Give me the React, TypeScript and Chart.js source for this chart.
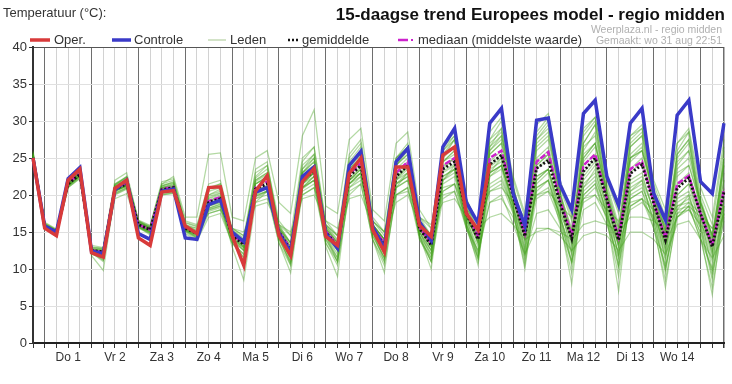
import React, { useEffect, useRef } from "react";
import { Chart, registerables } from "chart.js";
Chart.register(...registerables);

const dayLabels = ["Do 1", "Vr 2", "Za 3", "Zo 4", "Ma 5", "Di 6", "Wo 7", "Do 8", "Vr 9", "Za 10", "Zo 11", "Ma 12", "Di 13", "Wo 14"];
const yTickStep = 5;
const yMin = 0;
const yMax = 40;

const oper = [25.0,
  15.5, 14.5, 22.0, 23.5,
  12.2, 11.6, 20.9, 22.0,
  14.2, 13.2, 20.4, 20.6,
  15.8, 14.8, 21.0, 21.1,
  14.5, 10.5, 20.5, 22.6,
  14.5, 11.8, 21.8, 23.6,
  14.4, 13.2, 22.9, 25.0,
  15.3, 12.3, 23.8, 23.8,
  15.9, 14.4, 25.4, 26.5,
  17.5, 15.3, 24.3];

const controle = [25.0,
  15.8, 15.0, 22.2, 23.7,
  12.4, 12.1, 20.7, 22.0,
  14.8, 14.0, 20.5, 20.8,
  14.2, 14.0, 18.7, 19.3,
  15.0, 13.7, 20.4, 21.0,
  14.8, 12.3, 22.5, 23.8,
  14.8, 12.8, 24.0, 25.9,
  15.7, 12.8, 24.5, 26.3,
  16.4, 13.9, 26.5, 29.0,
  19.0, 16.2, 29.7, 31.7,
  20.2, 15.9, 30.1, 30.4,
  21.4, 18.0, 31.0, 32.8,
  22.5, 18.6, 29.7, 31.7,
  20.2, 16.6, 30.8, 32.8,
  21.8, 20.2, 29.7];

const gemiddelde = [25.0,
  15.8, 15.0, 21.5, 22.8,
  12.5, 12.3, 20.8, 21.5,
  16.0, 15.3, 20.7, 21.0,
  15.5, 14.8, 19.0, 19.5,
  14.5, 13.3, 20.8, 21.5,
  15.0, 12.5, 22.0, 23.3,
  15.0, 13.0, 22.5, 24.0,
  15.5, 13.2, 22.5, 24.0,
  15.5, 13.2, 23.5, 24.5,
  17.5, 14.0, 24.1, 25.4,
  19.8, 14.4, 23.6, 24.7,
  18.9, 14.1, 23.2, 25.0,
  19.3, 13.9, 22.9, 24.1,
  18.9, 13.9, 20.9, 22.3,
  17.5, 13.0, 20.4];

const mediaan = [25.0,
  15.8, 15.0, 21.6, 22.9,
  12.5, 12.3, 20.9, 21.6,
  16.0, 15.3, 20.8, 21.1,
  15.5, 14.9, 19.2, 19.7,
  14.6, 13.5, 21.0, 21.8,
  15.1, 12.7, 22.3, 23.6,
  15.1, 13.2, 22.8, 24.3,
  15.6, 13.5, 23.0, 24.5,
  15.6, 13.5, 24.0, 25.0,
  17.8, 14.3, 25.0, 26.0,
  20.0, 14.8, 24.5, 25.8,
  19.3, 14.6, 24.0, 25.5,
  19.5, 14.3, 23.5, 24.5,
  19.0, 14.2, 21.5, 22.6,
  17.5, 13.2, 20.8];

const lid01 = [25.5, 16.0, 15.2, 21.8, 23.2, 12.8, 12.0, 21.2, 22.0, 16.2, 15.6, 21.0, 21.5, 16.0, 15.5, 20.5, 21.0, 15.2, 14.0, 22.0, 23.0, 16.0, 13.5, 24.0, 25.5, 16.0, 14.0, 24.5, 26.5, 16.5, 14.5, 25.0, 27.0, 17.0, 14.5, 26.0, 27.5, 19.0, 15.5, 27.0, 28.5, 21.0, 16.0, 27.5, 29.0, 21.0, 16.5, 27.0, 29.5, 21.5, 16.0, 27.0, 28.5, 21.0, 15.5, 25.5, 27.5, 19.5, 14.5, 24.5];
const lid02 = [24.8, 15.5, 14.7, 21.0, 22.3, 12.2, 11.0, 20.0, 20.8, 15.5, 14.8, 20.0, 20.3, 15.0, 14.0, 17.5, 18.0, 13.5, 11.5, 19.5, 20.0, 13.5, 10.5, 20.0, 21.0, 13.5, 11.0, 20.0, 21.5, 14.0, 11.0, 20.0, 21.0, 14.0, 11.5, 20.5, 21.5, 15.5, 11.5, 20.5, 21.5, 17.5, 11.5, 19.5, 20.5, 16.5, 11.0, 19.5, 21.0, 17.0, 10.5, 18.5, 19.5, 16.5, 10.0, 17.5, 18.0, 15.0, 9.5, 16.5];
const lid03 = [25.8, 16.2, 15.3, 22.0, 23.5, 13.0, 12.8, 21.5, 22.5, 16.5, 15.8, 21.5, 22.0, 16.5, 16.0, 21.5, 22.0, 15.5, 14.5, 23.0, 24.0, 16.5, 14.5, 25.0, 26.5, 16.5, 14.5, 25.5, 27.5, 17.0, 15.0, 25.0, 26.5, 16.5, 14.0, 24.0, 25.0, 17.5, 13.5, 23.0, 24.0, 18.5, 13.0, 21.0, 22.0, 17.0, 12.5, 20.5, 22.0, 18.0, 12.0, 20.0, 21.0, 17.5, 12.0, 18.5, 19.5, 16.0, 11.5, 18.0];
const lid04 = [25.2, 15.7, 14.9, 21.3, 22.5, 12.0, 11.5, 20.5, 21.3, 15.8, 15.0, 20.3, 20.5, 14.8, 13.8, 17.0, 17.5, 13.5, 12.0, 19.5, 20.5, 14.5, 12.0, 21.5, 23.0, 15.0, 13.0, 23.0, 25.0, 16.0, 14.0, 24.0, 26.0, 16.5, 14.5, 25.5, 27.5, 19.5, 16.0, 27.5, 29.0, 22.0, 17.0, 28.0, 30.0, 21.5, 17.0, 28.5, 30.5, 22.0, 17.5, 28.0, 29.5, 21.5, 17.0, 27.0, 28.5, 20.0, 16.0, 26.5];
const lid05 = [25.0, 15.6, 14.8, 21.2, 22.6, 11.8, 9.8, 20.2, 21.0, 15.7, 14.6, 20.5, 20.8, 15.2, 14.2, 18.5, 19.0, 13.0, 8.5, 19.0, 20.5, 13.5, 9.5, 21.0, 22.5, 13.0, 9.0, 21.5, 23.0, 14.0, 9.5, 21.0, 23.0, 14.5, 10.0, 22.0, 23.5, 16.0, 10.5, 22.5, 24.0, 18.0, 10.0, 21.5, 23.0, 16.5, 8.0, 21.0, 23.5, 17.0, 7.0, 20.5, 22.0, 16.0, 7.5, 18.0, 20.0, 14.5, 6.5, 18.5];
const lid06 = [25.3, 15.9, 15.1, 21.6, 22.9, 12.6, 12.4, 21.0, 21.8, 16.0, 15.4, 20.5, 21.0, 15.8, 15.5, 17.5, 18.0, 15.5, 15.0, 18.5, 19.0, 16.0, 15.0, 19.5, 20.0, 16.5, 15.5, 21.0, 22.0, 16.5, 15.0, 20.0, 20.5, 17.0, 16.0, 19.0, 19.5, 17.0, 15.5, 17.0, 17.5, 16.0, 14.0, 15.0, 15.5, 15.0, 14.0, 16.0, 16.5, 16.0, 15.0, 17.0, 17.0, 16.5, 15.0, 18.0, 18.5, 17.0, 15.5, 18.0];
const lid07 = [26.0, 16.3, 15.4, 22.2, 23.8, 13.2, 12.9, 22.0, 23.0, 16.5, 15.5, 21.5, 22.5, 17.0, 17.0, 25.5, 25.7, 17.0, 16.5, 25.0, 26.0, 19.0, 17.5, 28.0, 31.5, 18.5, 17.5, 27.5, 29.0, 18.0, 16.5, 27.0, 28.5, 18.0, 15.5, 26.5, 28.0, 19.0, 15.0, 25.5, 27.0, 20.5, 14.5, 24.0, 25.5, 19.5, 14.5, 24.5, 26.5, 20.0, 15.0, 25.0, 26.0, 20.5, 15.5, 23.0, 24.0, 19.0, 14.0, 22.0];
const lid08 = [25.4, 15.9, 15.1, 21.7, 23.0, 12.7, 12.6, 21.0, 21.8, 16.3, 15.5, 21.0, 21.3, 15.7, 15.0, 19.5, 20.0, 14.8, 13.8, 21.5, 22.5, 15.5, 13.0, 23.0, 24.5, 15.5, 13.5, 23.5, 25.0, 16.0, 14.0, 23.5, 25.0, 16.0, 14.0, 24.5, 25.5, 18.0, 14.5, 25.5, 27.0, 20.5, 15.0, 25.0, 26.5, 19.5, 15.0, 25.0, 27.0, 20.0, 14.5, 24.5, 26.0, 19.5, 14.5, 22.5, 24.0, 18.5, 14.0, 22.0];
const lid09 = [25.1, 15.7, 14.9, 21.3, 22.6, 12.4, 12.1, 20.6, 21.3, 15.8, 15.1, 20.5, 20.8, 15.3, 14.6, 18.5, 19.0, 14.2, 12.8, 20.2, 21.0, 14.5, 12.0, 21.0, 22.5, 14.5, 12.5, 21.5, 23.0, 15.0, 12.5, 21.5, 23.0, 15.0, 12.5, 22.5, 23.5, 16.5, 13.0, 23.0, 24.0, 19.0, 13.5, 22.5, 23.5, 18.0, 13.0, 21.5, 23.0, 18.5, 13.0, 21.0, 22.0, 18.0, 12.5, 19.5, 20.5, 16.5, 12.0, 19.0];
const lid10 = [25.6, 16.1, 15.3, 21.9, 23.3, 12.9, 12.7, 21.3, 22.2, 16.4, 15.7, 21.2, 21.6, 16.2, 15.7, 20.0, 20.5, 15.0, 13.5, 22.5, 24.0, 15.5, 12.5, 23.5, 25.5, 15.5, 12.5, 24.0, 26.0, 15.5, 12.0, 24.5, 26.5, 15.5, 12.5, 26.0, 28.0, 18.0, 13.5, 27.5, 30.0, 21.5, 14.0, 28.5, 30.5, 20.5, 13.5, 28.0, 30.0, 20.5, 13.0, 27.5, 29.0, 20.0, 12.5, 26.0, 28.5, 18.0, 12.0, 26.0];
const lid11 = [24.9, 15.6, 14.8, 21.1, 22.4, 12.2, 11.5, 19.5, 20.2, 15.6, 15.0, 20.0, 20.2, 15.4, 14.5, 18.0, 18.5, 13.8, 12.5, 20.0, 20.5, 14.0, 11.0, 20.5, 21.5, 13.5, 10.5, 20.5, 21.5, 14.0, 10.5, 20.0, 21.0, 14.5, 11.0, 19.5, 20.5, 16.0, 12.0, 19.0, 19.5, 17.0, 12.0, 17.5, 18.0, 15.5, 11.0, 18.0, 19.0, 16.0, 11.5, 18.5, 19.5, 15.5, 10.5, 17.0, 18.5, 14.0, 10.0, 17.5];
const lid12 = [25.3, 15.8, 15.0, 21.6, 22.9, 12.5, 12.3, 20.9, 21.6, 16.1, 15.4, 20.8, 21.1, 15.5, 14.9, 19.2, 19.8, 14.6, 13.5, 21.0, 21.8, 15.2, 12.8, 22.3, 23.5, 15.2, 13.2, 22.8, 24.3, 15.6, 13.4, 22.8, 24.5, 15.6, 13.6, 23.8, 25.0, 17.5, 14.2, 24.5, 26.0, 20.0, 14.8, 24.0, 25.5, 19.0, 14.5, 24.0, 25.5, 19.5, 14.0, 23.5, 25.0, 19.0, 14.0, 21.5, 23.0, 17.5, 13.5, 21.0];
const lid13 = [25.7, 16.1, 15.2, 22.0, 23.4, 12.9, 12.8, 21.5, 22.4, 16.6, 15.9, 21.8, 22.2, 16.0, 15.2, 21.0, 21.5, 15.0, 13.0, 23.5, 24.5, 15.0, 11.0, 22.0, 24.0, 14.5, 11.5, 23.0, 25.0, 15.0, 11.5, 22.0, 24.0, 14.0, 11.0, 22.0, 24.0, 16.0, 11.5, 23.0, 25.0, 18.5, 12.0, 22.0, 23.5, 17.5, 11.0, 22.5, 24.5, 18.0, 10.5, 22.0, 23.0, 17.5, 10.0, 20.0, 21.5, 16.0, 9.0, 19.5];
const lid14 = [25.4, 15.9, 15.1, 21.6, 22.9, 12.6, 12.4, 21.0, 21.7, 16.2, 15.5, 20.9, 21.2, 15.6, 14.9, 19.3, 19.8, 14.7, 13.5, 21.5, 22.5, 15.3, 13.0, 23.0, 24.5, 15.5, 13.5, 24.0, 25.5, 16.0, 14.0, 25.0, 26.5, 16.5, 14.5, 26.5, 28.5, 19.5, 16.0, 28.5, 30.5, 22.5, 17.5, 29.5, 31.0, 22.0, 17.5, 29.0, 30.5, 22.5, 18.0, 28.0, 29.0, 22.0, 18.0, 27.0, 29.0, 21.0, 17.0, 27.5];
const lid15 = [25.0, 15.7, 14.9, 21.4, 22.7, 12.3, 12.0, 20.5, 21.2, 15.9, 15.2, 20.6, 20.9, 15.4, 14.7, 18.8, 19.3, 14.3, 12.5, 20.5, 21.0, 14.5, 11.5, 21.5, 23.0, 14.5, 12.0, 22.0, 23.5, 15.0, 12.0, 22.0, 23.0, 15.0, 12.0, 22.5, 23.5, 16.5, 11.5, 23.5, 24.5, 18.5, 11.0, 22.0, 23.5, 17.0, 10.5, 21.0, 22.5, 17.5, 10.0, 20.5, 21.5, 16.5, 9.5, 19.0, 20.0, 15.5, 8.5, 18.5];
const lid16 = [25.5, 16.0, 15.2, 21.8, 23.1, 12.7, 12.5, 21.1, 21.9, 16.3, 15.6, 21.0, 21.4, 15.8, 15.2, 19.8, 20.3, 14.9, 13.9, 21.8, 22.8, 15.8, 13.5, 23.5, 25.0, 15.8, 13.8, 23.5, 25.5, 16.0, 14.0, 24.0, 25.5, 16.5, 14.5, 24.5, 26.0, 18.5, 15.0, 26.0, 27.5, 20.5, 15.5, 26.0, 27.5, 20.0, 15.5, 25.5, 27.0, 20.5, 15.5, 25.0, 26.0, 20.0, 15.0, 23.5, 25.0, 19.0, 14.5, 23.0];
const lid17 = [25.2, 15.8, 15.0, 21.4, 22.6, 12.4, 12.2, 20.6, 21.2, 15.9, 15.2, 20.4, 20.7, 15.5, 15.0, 18.0, 18.5, 15.5, 14.5, 19.0, 19.5, 16.0, 14.5, 20.0, 21.0, 16.0, 14.5, 19.5, 20.0, 16.0, 14.0, 19.0, 20.0, 16.0, 14.0, 20.5, 21.5, 16.5, 14.5, 21.0, 22.0, 18.0, 14.5, 20.0, 21.0, 17.5, 14.0, 19.0, 20.0, 17.0, 13.5, 18.0, 19.0, 17.0, 13.5, 17.0, 18.0, 16.0, 13.5, 17.5];
const lid18 = [25.3, 15.8, 15.0, 21.5, 22.8, 12.5, 12.3, 20.8, 21.5, 16.0, 15.3, 20.7, 21.0, 15.5, 14.8, 19.0, 19.5, 14.4, 13.0, 20.5, 21.0, 14.8, 12.0, 22.0, 23.0, 15.0, 12.5, 22.0, 23.5, 15.5, 13.0, 22.5, 24.0, 15.5, 13.0, 23.5, 25.0, 17.0, 13.5, 24.0, 25.5, 20.0, 14.0, 23.5, 25.0, 19.0, 13.5, 23.0, 25.0, 19.5, 13.0, 23.0, 24.5, 19.0, 13.5, 21.0, 22.5, 17.5, 12.5, 20.5];
const lid19 = [25.5, 16.0, 15.1, 21.7, 23.0, 12.6, 12.5, 21.0, 21.8, 16.1, 15.4, 20.9, 21.2, 15.7, 15.0, 19.6, 20.2, 14.8, 13.8, 21.5, 22.3, 15.5, 13.5, 23.0, 24.0, 15.5, 13.5, 23.5, 25.0, 16.0, 13.5, 24.5, 26.0, 16.0, 13.5, 25.0, 26.5, 18.5, 14.5, 26.5, 28.0, 21.0, 15.0, 27.0, 28.5, 20.0, 14.5, 26.5, 28.0, 20.5, 14.5, 25.5, 27.0, 20.0, 14.0, 24.5, 26.0, 18.5, 13.5, 24.0];
const lid20 = [24.9, 15.6, 14.8, 21.2, 22.5, 12.3, 11.8, 20.3, 21.0, 15.7, 15.0, 20.3, 20.6, 15.2, 14.4, 18.2, 18.8, 14.0, 12.5, 19.8, 20.5, 14.2, 11.5, 20.8, 22.0, 14.0, 11.5, 21.0, 22.5, 14.5, 11.5, 21.0, 22.0, 14.5, 12.0, 21.5, 22.5, 16.0, 12.5, 21.5, 22.5, 18.0, 12.5, 20.5, 22.0, 17.0, 12.0, 20.0, 21.5, 17.5, 12.0, 19.5, 20.5, 17.0, 11.5, 17.5, 19.0, 15.5, 11.0, 17.5];
const lid21 = [25.1, 15.7, 14.9, 21.2, 22.6, 12.2, 11.8, 20.5, 21.2, 15.8, 15.2, 20.5, 20.8, 15.3, 14.7, 18.6, 19.2, 14.2, 13.0, 20.5, 21.2, 14.8, 12.5, 21.5, 22.5, 14.8, 12.8, 22.0, 23.0, 15.0, 13.0, 21.5, 22.5, 15.0, 12.5, 20.0, 20.5, 15.5, 12.5, 19.0, 20.0, 16.0, 12.0, 15.5, 15.5, 14.5, 12.5, 14.5, 15.0, 14.5, 12.5, 15.0, 15.0, 14.0, 12.0, 16.0, 16.5, 14.0, 11.5, 14.5];
const lid22 = [25.6, 16.0, 15.2, 21.9, 23.2, 12.8, 12.6, 21.4, 22.3, 16.4, 15.7, 21.3, 21.7, 16.3, 15.8, 20.8, 21.5, 15.3, 14.2, 22.3, 23.5, 15.8, 13.0, 24.5, 26.5, 15.8, 13.5, 25.0, 27.0, 16.0, 13.5, 24.0, 25.5, 15.5, 13.0, 24.5, 26.0, 18.0, 14.0, 26.0, 28.0, 21.0, 15.0, 26.5, 28.0, 20.5, 15.0, 26.0, 28.5, 21.0, 15.5, 26.5, 28.0, 20.5, 15.0, 25.0, 27.0, 19.0, 14.5, 25.0];
const lid23 = [24.8, 15.5, 14.7, 21.0, 22.2, 12.1, 11.2, 20.1, 20.9, 15.6, 14.9, 20.1, 20.4, 15.1, 14.2, 17.8, 18.3, 13.6, 12.0, 19.8, 20.6, 14.0, 10.8, 21.0, 22.0, 14.0, 11.0, 21.5, 23.0, 14.5, 11.5, 21.5, 22.5, 14.5, 11.0, 22.0, 23.0, 15.5, 11.0, 22.5, 23.5, 17.5, 10.5, 21.0, 22.0, 16.0, 9.5, 20.0, 21.5, 16.5, 9.0, 19.5, 20.5, 15.5, 8.5, 17.0, 18.5, 14.0, 7.5, 17.0];
const lid24 = [25.2, 15.8, 15.0, 21.5, 22.7, 12.5, 12.2, 20.7, 21.4, 16.0, 15.3, 20.6, 20.9, 15.4, 14.7, 18.9, 19.4, 14.4, 13.2, 20.6, 21.3, 14.9, 12.4, 21.8, 23.0, 14.9, 12.9, 22.3, 23.8, 15.4, 13.1, 22.3, 23.8, 15.4, 13.0, 23.2, 24.2, 17.2, 13.8, 23.8, 25.0, 19.5, 14.2, 24.5, 26.0, 19.5, 14.5, 25.0, 27.0, 20.0, 14.5, 25.0, 26.5, 20.0, 15.0, 24.0, 26.0, 19.0, 14.5, 24.0];
const lid25 = [25.3, 15.9, 15.1, 21.5, 22.8, 12.6, 12.4, 20.9, 21.6, 16.1, 15.4, 20.8, 21.1, 15.6, 15.0, 19.2, 19.6, 14.7, 13.5, 20.5, 21.0, 15.5, 13.5, 21.0, 22.0, 16.0, 14.5, 21.5, 22.5, 16.5, 15.0, 21.0, 22.0, 17.0, 15.5, 21.0, 21.5, 18.0, 16.5, 20.5, 21.0, 19.0, 17.0, 20.0, 20.5, 18.5, 17.0, 19.5, 20.0, 18.0, 16.5, 19.0, 19.5, 18.0, 16.0, 18.5, 19.0, 17.5, 15.5, 18.5];
const lid26 = [25.4, 15.9, 15.0, 21.8, 23.3, 12.4, 11.2, 21.3, 22.5, 15.8, 14.8, 21.2, 21.8, 15.3, 14.3, 20.0, 20.8, 14.0, 11.5, 22.0, 23.0, 14.5, 10.5, 23.0, 25.0, 14.5, 11.0, 24.0, 26.0, 15.0, 11.0, 24.0, 26.5, 15.0, 11.5, 25.0, 27.5, 17.0, 12.0, 26.5, 29.0, 20.0, 12.5, 27.5, 29.5, 19.0, 12.0, 27.0, 29.5, 19.5, 11.5, 26.5, 28.0, 19.0, 11.0, 25.5, 27.5, 17.0, 10.0, 25.0];
const lid27 = [25.0, 15.6, 14.8, 21.3, 22.6, 12.3, 12.0, 20.6, 21.3, 15.9, 15.1, 20.5, 20.8, 15.2, 14.5, 18.2, 18.7, 14.1, 12.9, 20.0, 21.0, 14.6, 12.2, 21.5, 23.0, 15.0, 13.0, 22.0, 23.5, 15.5, 13.5, 22.0, 23.5, 15.5, 13.5, 23.0, 24.0, 17.0, 14.0, 23.0, 24.0, 19.0, 14.5, 22.5, 23.5, 18.5, 14.0, 22.0, 24.0, 18.5, 13.5, 21.5, 22.5, 18.0, 13.0, 20.0, 21.5, 17.0, 12.5, 19.5];

const leden = [lid01, lid02, lid03, lid04, lid05, lid06, lid07, lid08, lid09, lid10, lid11, lid12, lid13, lid14, lid15, lid16, lid17, lid18, lid19, lid20, lid21, lid22, lid23, lid24, lid25, lid26, lid27];

const FONT = '"Liberation Sans", Arial, sans-serif';

const labels = controle.map((_, i) => (i % 4 === 3 ? dayLabels[(i - 3) / 4] ?? "" : ""));

const overlayPlugin = {
  id: "overlay",
  afterDraw(chart: any) {
    const ctx = chart.ctx as CanvasRenderingContext2D;
    ctx.save();
    ctx.textBaseline = "middle";
    ctx.fillStyle = "#333";
    ctx.font = `13px ${FONT}`;
    ctx.textAlign = "left";
    ctx.fillText("Temperatuur (°C):", 3, 13);
    ctx.font = `bold 17px ${FONT}`;
    ctx.textAlign = "right";
    ctx.fillStyle = "#111";
    ctx.fillText("15-daagse trend Europees model - regio midden", 725, 15);
    ctx.font = `10.5px ${FONT}`;
    ctx.fillStyle = "#b0b0b0";
    ctx.fillText("Weerplaza.nl - regio midden", 722, 30);
    ctx.fillText("Gemaakt: wo 31 aug 22:51", 722, 41);
    const ly = 40;
    const line = (x1: number, x2: number, color: string, w: number, dash: number[] = []) => {
      ctx.beginPath();
      ctx.setLineDash(dash);
      ctx.strokeStyle = color;
      ctx.lineWidth = w;
      ctx.moveTo(x1, ly);
      ctx.lineTo(x2, ly);
      ctx.stroke();
      ctx.setLineDash([]);
    };
    line(30, 50, "#d83a3a", 3.5);
    line(112, 131, "#3a3ac8", 3.5);
    line(208, 226, "#d3e3c8", 2);
    line(288, 298, "#111", 2.5, [2, 2]);
    line(398, 408, "#cc22cc", 2.5);
    line(411, 413, "#cc22cc", 2);
    ctx.font = `13px ${FONT}`;
    ctx.textAlign = "left";
    ctx.fillStyle = "#333";
    ctx.fillText("Oper.", 54, ly);
    ctx.fillText("Controle", 134, ly);
    ctx.fillText("Leden", 230, ly);
    ctx.fillText("gemiddelde", 302, ly);
    ctx.fillText("mediaan (middelste waarde)", 418, ly);
    ctx.restore();
  },
};

export default function App() {
  const ref = useRef<HTMLCanvasElement | null>(null);
  useEffect(() => {
    if (!ref.current) return;
    const datasets: any[] = [
      { label: "Oper.", data: oper, borderColor: "#d83a3a", borderWidth: 3.5 },
      { label: "Controle", data: controle, borderColor: "#3a3ac8", borderWidth: 3.5 },
      { label: "gemiddelde", data: gemiddelde, borderColor: "#111", borderWidth: 2.8, borderDash: [2, 2] },
      { label: "mediaan", data: mediaan, borderColor: "#cc22cc", borderWidth: 2.5, borderDash: [6, 2] },
      ...leden.map((d, i) => ({ label: "Leden " + (i + 1), data: d, borderColor: "rgba(65,160,25,0.4)", borderWidth: 1.25 })),
    ];
    datasets.forEach((d) => {
      d.pointRadius = 0;
      d.tension = 0;
      d.fill = false;
    });
    const chart = new Chart(ref.current, {
      type: "line",
      data: { labels, datasets },
      options: {
        animation: false,
        responsive: false,
        devicePixelRatio: 1,
        layout: { padding: { top: 47, right: 8, left: 0, bottom: 0 } },
        plugins: { legend: { display: false }, tooltip: { enabled: false }, title: { display: false } },
        scales: {
          x: {
            type: "category",
            offset: false,
            afterFit: (s: any) => { s.height = 41; },
            border: { color: "#222", width: 2 },
            grid: {
              offset: false,
              color: (c: any) => (c.index % 4 === 1 || c.index === 59 ? "#6e6e6e" : "#d2d2d2"),
              lineWidth: (c: any) => (c.index === 59 ? 1.5 : 1),
              tickColor: "#333",
              tickLength: 5,
            },
            ticks: {
              autoSkip: false,
              maxRotation: 0,
              minRotation: 0,
              padding: 2,
              color: "#333",
              font: { family: FONT, size: 12 },
              callback: (_v: any, i: number) => labels[i],
            },
          },
          y: {
            min: yMin,
            max: yMax,
            afterFit: (s: any) => { s.width = 33; },
            border: { color: "#333", width: 2 },
            grid: {
              color: (c: any) => (c.tick && c.tick.value === yMax ? "#555" : "#e0e0e0"),
              tickColor: "#333",
              tickLength: 4,
            },
            ticks: {
              stepSize: yTickStep,
              padding: 2,
              color: "#333",
              font: { family: FONT, size: 13 },
            },
          },
        },
      },
      plugins: [overlayPlugin],
    });
    return () => chart.destroy();
  }, []);
  return (
    <div style={{ position: "absolute", left: 0, top: 0, width: 732, height: 384, background: "#fff" }}>
      <canvas ref={ref} width={732} height={384} />
    </div>
  );
}
